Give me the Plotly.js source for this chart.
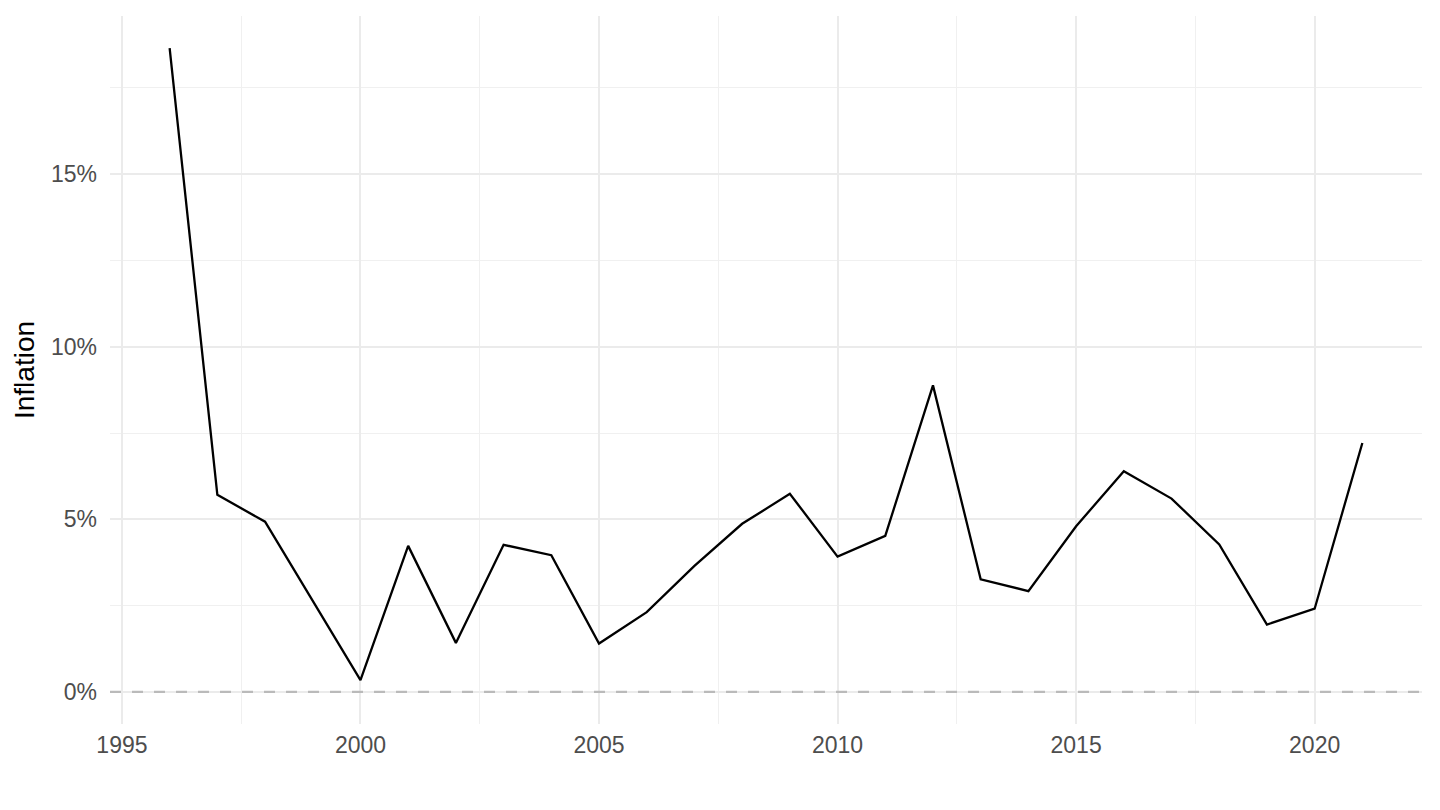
<!DOCTYPE html>
<html>
<head>
<meta charset="utf-8">
<script src="https://cdn.plot.ly/plotly-3.0.1.min.js"></script>
<style>html,body{margin:0;padding:0;background:#fff;}#chart{width:1440px;height:810px;}</style>
</head>
<body>
<div id="chart"></div>
<script>
const years = [1996,1997,1998,1999,2000,2001,2002,2003,2004,2005,2006,2007,2008,2009,2010,2011,2012,2013,2014,2015,2016,2017,2018,2019,2020,2021];
const inflation = [18.65,5.71,4.93,2.64,0.34,4.23,1.42,4.26,3.96,1.40,2.31,3.65,4.87,5.74,3.92,4.52,8.88,3.26,2.92,4.80,6.39,5.60,4.27,1.95,2.41,7.21];
const xTicks = [1995,2000,2005,2010,2015,2020];
const yTicks = [0,5,10,15];
const yTickLabels = ['0%','5%','10%','15%'];
const refLevel = 0;

const trace = {
  x: years, y: inflation, type: 'scatter', mode: 'lines',
  line: {color: '#000000', width: 2.3}, hoverinfo: 'x+y'
};

const layout = {
  width: 1440, height: 810,
  margin: {l: 110, r: 18, t: 16, b: 86},
  paper_bgcolor: '#ffffff', plot_bgcolor: '#ffffff',
  font: {family: 'Liberation Sans, Arial, sans-serif', color: '#4d4d4d', size: 23},
  showlegend: false,
  xaxis: {
    range: [1994.75, 2022.25],
    tickvals: xTicks, ticktext: xTicks.map(String),
    showgrid: true, gridcolor: '#ebebeb', gridwidth: 2,
    minor: {dtick: 2.5, tick0: 1995, showgrid: true, gridcolor: '#f0f0f0', gridwidth: 1},
    zeroline: false, showline: false, ticks: '',
    tickfont: {size: 23, color: '#4d4d4d'}, ticklabelstandoff: 5
  },
  yaxis: {
    range: [-0.93, 19.58],
    tickvals: yTicks, ticktext: yTickLabels,
    showgrid: true, gridcolor: '#ebebeb', gridwidth: 2,
    minor: {dtick: 2.5, tick0: 0, showgrid: true, gridcolor: '#f0f0f0', gridwidth: 1},
    zeroline: false, showline: false, ticks: '',
    tickfont: {size: 23, color: '#4d4d4d'}, ticklabelstandoff: 12,
    title: {text: 'Inflation', font: {size: 28, color: '#000000'}, standoff: 8}
  },
  shapes: [{
    type: 'line', xref: 'paper', x0: 0, x1: 1, yref: 'y', y0: refLevel, y1: refLevel,
    line: {color: '#bababa', width: 2.2, dash: '11px,11px'}, layer: 'above'
  }]
};

Plotly.newPlot('chart', [trace], layout, {displayModeBar: false, staticPlot: true});
</script>
</body>
</html>
